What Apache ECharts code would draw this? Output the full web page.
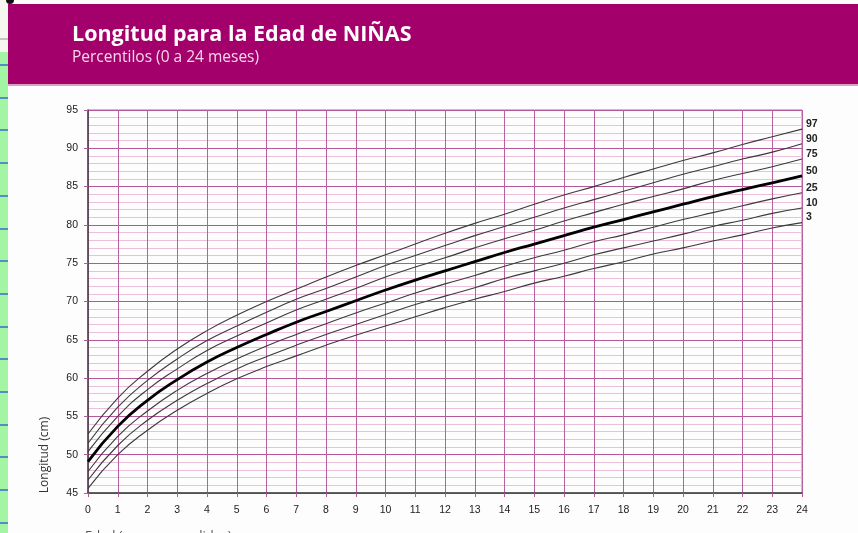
<!DOCTYPE html>
<html>
<head>
<meta charset="utf-8">
<script src="https://cdn.jsdelivr.net/npm/echarts@6/dist/echarts.min.js"></script>
<style>
  html, body { margin: 0; padding: 0; background: #fdfdfd; }
  #main { width: 858px; height: 533px; }
</style>
</head>
<body>
<div id="main"></div>
<script>
// meses cumplidos
var months = [0,1,2,3,4,5,6,7,8,9,10,11,12,13,14,15,16,17,18,19,20,21,22,23,24];
// percentiles de longitud (cm)
var p3  = [45.6,50.0,53.2,55.8,58.0,59.9,61.5,62.9,64.3,65.6,66.8,68.0,69.2,70.3,71.3,72.4,73.3,74.3,75.2,76.2,77.0,77.9,78.7,79.6,80.3];
var p10 = [46.7,51.2,54.5,57.1,59.3,61.2,62.8,64.3,65.7,67.0,68.3,69.6,70.7,71.8,73.0,74.0,75.0,76.1,77.0,77.9,78.8,79.8,80.6,81.5,82.2];
var p25 = [47.8,52.4,55.7,58.4,60.6,62.5,64.2,65.7,67.1,68.5,69.8,71.1,72.3,73.4,74.6,75.7,76.7,77.8,78.7,79.7,80.7,81.6,82.5,83.4,84.2];
var p50 = [49.1,53.7,57.1,59.8,62.1,64.0,65.7,67.3,68.7,70.1,71.5,72.8,74.0,75.2,76.4,77.5,78.6,79.7,80.7,81.7,82.7,83.7,84.6,85.5,86.4];
var p75 = [50.4,55.0,58.5,61.2,63.6,65.5,67.2,68.9,70.3,71.7,73.2,74.5,75.7,77.0,78.2,79.3,80.5,81.6,82.7,83.7,84.7,85.8,86.7,87.6,88.6];
var p90 = [51.5,56.2,59.7,62.5,64.9,66.8,68.6,70.3,71.7,73.2,74.7,76.0,77.3,78.6,79.8,81.0,82.2,83.3,84.4,85.5,86.6,87.6,88.6,89.5,90.6];
var p97 = [52.7,57.4,60.9,63.8,66.2,68.2,70.0,71.6,73.2,74.7,76.1,77.5,78.9,80.2,81.4,82.7,83.9,85.0,86.2,87.3,88.4,89.4,90.5,91.5,92.5];

var percentiles = [
    {name: '97', values: p97},
    {name: '90', values: p90},
    {name: '75', values: p75},
    {name: '50', values: p50},
    {name: '25', values: p25},
    {name: '10', values: p10},
    {name: '3',  values: p3}
];

var myChart = echarts.init(document.getElementById('main'));

// marco de la captura (franja verde a la izquierda) y cabecera
var decor = [
    {type: 'rect', shape: {x: 0, y: 0, width: 8, height: 533}, style: {fill: '#f6f7ee'}},
    {type: 'rect', shape: {x: 0, y: 38, width: 8, height: 2}, style: {fill: '#c4c4c4'}},
    {type: 'rect', shape: {x: 0, y: 52, width: 8, height: 481}, style: {fill: '#a2f5a2'}},
    {type: 'circle', shape: {cx: 10, cy: 0, r: 4}, style: {fill: '#111'}},
    {type: 'rect', shape: {x: 8, y: 4, width: 850, height: 80}, style: {fill: '#a3006b'}},
    {type: 'rect', shape: {x: 8, y: 84, width: 850, height: 2}, style: {fill: '#d9a0c4'}},
    {type: 'text', left: 72, top: 24, style: {text: 'Longitud para la Edad de NIÑAS', fill: '#fff', font: 'bold 21.5px "Open Sans", sans-serif'}},
    {type: 'text', left: 72, top: 50, style: {text: 'Percentilos (0 a 24 meses)', fill: '#f4d8e8', font: '15.5px "Open Sans", sans-serif'}},
    {type: 'text', x: 45, y: 455, rotation: Math.PI / 2, style: {text: 'Longitud (cm)', fill: '#333', font: '12px "Open Sans", sans-serif', align: 'center', verticalAlign: 'middle'}},
    {type: 'text', left: 85, top: 530, style: {text: 'Edad (meses cumplidos)', fill: '#555', font: '13px "Open Sans", sans-serif'}}
];
for (var t = 64; t < 533; t += 32.7) {
    decor.push({type: 'rect', shape: {x: 0, y: Math.round(t), width: 8, height: 2}, style: {fill: '#4f8fc4'}});
}

myChart.setOption({
    animation: false,
    backgroundColor: '#fdfdfd',
    textStyle: {fontFamily: '"Liberation Sans", sans-serif'},
    graphic: decor,
    grid: {
        left: 88,
        right: 56,
        top: 110,
        bottom: 40,
        show: true,
        borderColor: '#888',
        borderWidth: 1
    },
    xAxis: {
        type: 'value',
        min: 0,
        max: 24,
        interval: 1,
        axisLine: {show: true, onZero: false, lineStyle: {color: '#444', width: 1.5}},
        axisTick: {show: true, length: 4, lineStyle: {color: '#b5579a'}},
        axisLabel: {color: '#222', fontSize: 10.5, margin: 12},
        splitLine: {show: true, lineStyle: {color: '#b9609e', width: 1}}
    },
    yAxis: {
        type: 'value',
        min: 45,
        max: 95,
        interval: 5,
        axisLine: {show: true, onZero: false, lineStyle: {color: '#444', width: 1.5}},
        axisTick: {show: true, length: 4, lineStyle: {color: '#b5579a'}},
        axisLabel: {color: '#222', fontSize: 10.5, margin: 10},
        splitLine: {show: true, lineStyle: {color: '#b5579a', width: 1}},
        minorTick: {show: false, splitNumber: 5},
        minorSplitLine: {show: true, lineStyle: {color: '#ecc0da', width: 1}}
    },
    series: percentiles.map(function (p) {
        var isMedian = p.name === '50';
        return {
            name: p.name,
            type: 'line',
            smooth: true,
            symbol: 'none',
            data: months.map(function (m, i) { return [m, p.values[i]]; }),
            lineStyle: {color: isMedian ? '#000' : '#3a3a3a', width: isMedian ? 2.8 : 1.1},
            z: isMedian ? 4 : 3,
            endLabel: {
                show: true,
                formatter: p.name,
                color: '#222',
                fontSize: 10.5,
                fontWeight: 'bold',
                offset: [0, -5],
                distance: 4
            }
        };
    })
});
</script>
</body>
</html>
